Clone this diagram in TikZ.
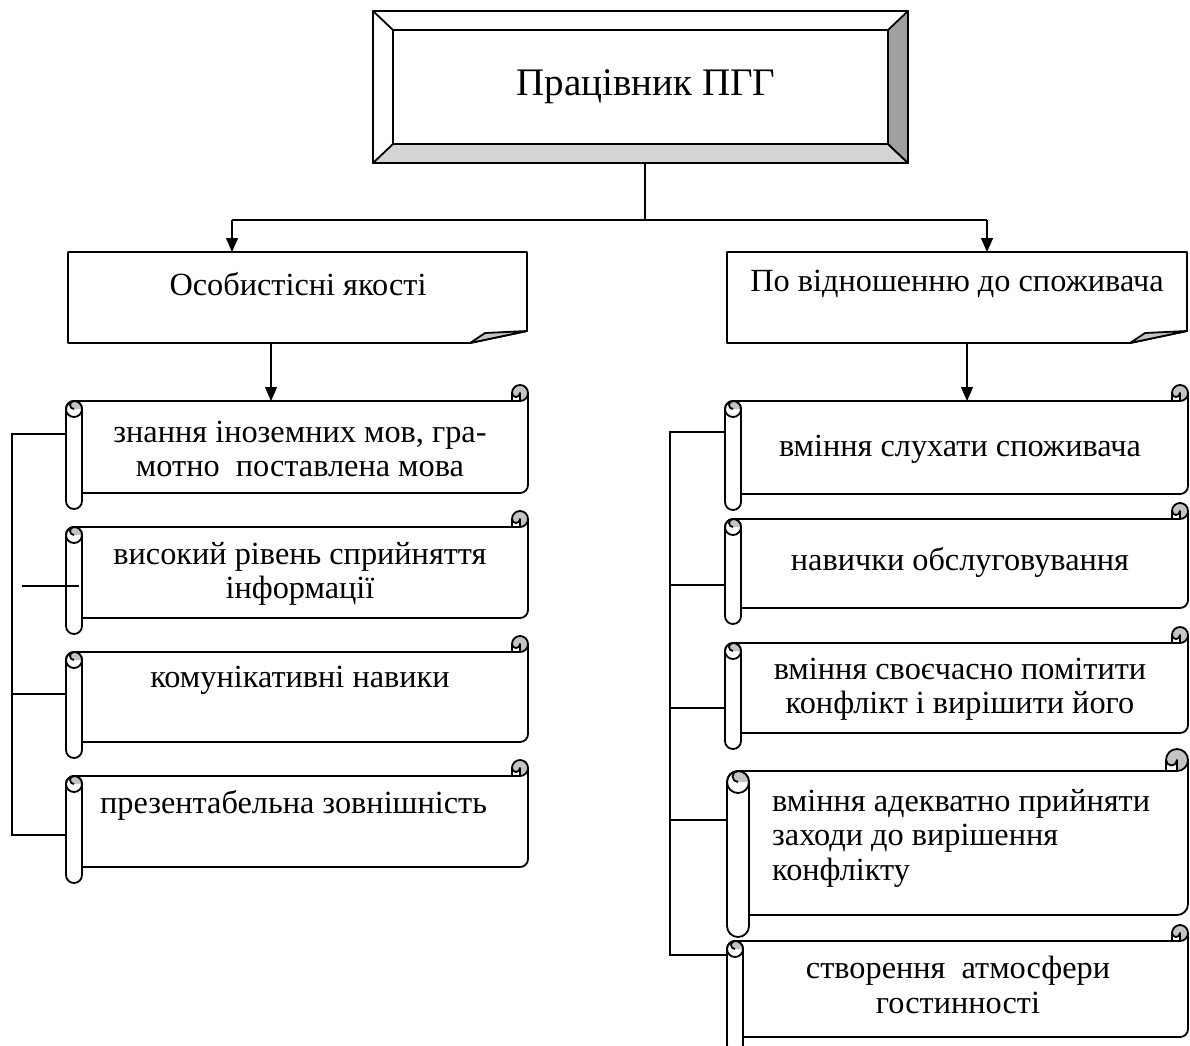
\documentclass[tikz,border=0pt]{standalone}
\usepackage{fontspec}
\setmainfont{Liberation Serif}
\usetikzlibrary{arrows.meta}
\definecolor{curl}{RGB}{196,196,196}
\definecolor{bevelb}{RGB}{212,212,212}
\definecolor{bevelr}{RGB}{160,160,160}
\newcommand\scrl[5]{%
\pgfmathsetmacro\sL{#1}\pgfmathsetmacro\sT{#2}\pgfmathsetmacro\sR{#3}\pgfmathsetmacro\sB{#4}%
\pgfmathsetmacro\sc{#5}\pgfmathsetmacro\sh{#5/2}\pgfmathsetmacro\sq{#5/4}%
\fill[white] (\sL+\sh,\sT+\sc) rectangle (\sR,\sB-\sc);
\draw[shp] (\sL+\sh,\sT+\sc) -- (\sR-\sc,\sT+\sc);
\draw[shp] (\sR,\sT+\sh) -- (\sR,\sB-\sc-\sh) arc[start angle=0,end angle=90,radius=\sh] -- (\sL+\sc,\sB-\sc);
\filldraw[shp,fill=curl] (\sR-\sh,\sT+\sh) circle[radius=\sh];
\filldraw[shp,fill=white] (\sR-\sc,\sT+\sh) arc[start angle=180,end angle=0,radius=\sq] -- (\sR-\sh,\sT+\sc) -- (\sR-\sc,\sT+\sc) -- cycle;
\filldraw[shp,fill=white] (\sL,\sT+\sc+\sh) -- (\sL,\sB-\sh) arc[start angle=180,end angle=0,radius=\sh] -- (\sL+\sc,\sT+\sc+\sh) arc[start angle=0,end angle=-180,radius=\sh] -- cycle;
\fill[curl] (\sL+\sh,\sT+\sc) arc[start angle=-90,end angle=0,radius=\sh] -- (\sL+\sh,\sT+\sc+\sh) arc[start angle=90,end angle=270,radius=\sq] -- cycle;
\draw[shp] (\sL+\sh,\sT+\sc+\sh) circle[radius=\sh];
\draw[shp] (\sL+\sh,\sT+\sc+\sh) arc[start angle=90,end angle=270,radius=\sq];
}
\newcommand\foldbox[4]{%
\filldraw[shp,fill=white] (#1,#2) -- (#3,#2) -- (#3,#4-12) -- (#3-57,#4) -- (#1,#4) -- cycle;
\filldraw[shp,fill=curl] (#3-57,#4) -- (#3-42,#4-10) -- (#3,#4-12) -- cycle;
}
\begin{document}
\begin{tikzpicture}[x=1pt,y=-1pt,
  shp/.style={line width=1.8pt,line join=round},
  con/.style={line width=1.4pt},
  arr/.style={con,-{Triangle[length=14pt,width=12pt]}},
  txt/.style={font=\fontsize{32.3}{34.5}\selectfont,inner sep=0pt,align=center},
  txtl/.style={font=\fontsize{32.3}{34.5}\selectfont,inner sep=0pt,align=left,anchor=west},
  ttl/.style={font=\fontsize{39}{42}\selectfont,inner sep=0pt}]
\useasboundingbox (0,0) rectangle (1190,1045);
% top box
\filldraw[shp,fill=white] (373,11) rectangle (908,163);
\filldraw[shp,fill=bevelb] (373,163) -- (393,144) -- (888,144) -- (908,163) -- cycle;
\filldraw[shp,fill=bevelr] (908,11) -- (888,30) -- (888,144) -- (908,163) -- cycle;
\draw[shp] (373,11) -- (393,30);
\draw[shp] (393,30) rectangle (888,144);
\node[ttl] (top) at (646,87) {Працівник ПГГ};
\coordinate (topb) at (645,163);
% second level
\foldbox{68}{252}{527}{343}
\foldbox{727}{252}{1187}{343}
\node[txt] (lbox) at (298,284) {Особистісні якості};
\node[txt] (rbox) at (957,284) {По відношенню до споживача};
\coordinate (jm) at (645,220);
\coordinate (jl) at (232,220);
\coordinate (jr) at (987,220);
\coordinate (lboxt) at (232,252);
\coordinate (rboxt) at (987,252);
\coordinate (lboxb) at (271,343);
\coordinate (rboxb) at (967,343);
\draw[con] (topb) -- (jm);
\draw[con] (jl) -- (jr);
\draw[arr] (jl) -- (lboxt);
\draw[arr] (jr) -- (rboxt);
% left scrolls
\scrl{66}{385}{528}{509}{16}
\scrl{66}{511}{528}{634}{16}
\scrl{66}{636}{528}{758}{16}
\scrl{66}{760}{528}{883}{16}
\node[txt] (l1) at (300,449) {знання іноземних мов, гра-\\мотно\ \ поставлена мова};
\node[txt] (l2) at (300,574) {високий рівень сприйняття\\інформації};
\node[txt] (l3) at (300,680) {комунікативні навики};
\node[txtl] (l4) at (100,805) {презентабельна зовнішність};
\coordinate (lboxs) at (271,401);
\draw[arr] (lboxb) -- (lboxs);
\coordinate (l1t) at (66,434);
\coordinate (l3t) at (66,694);
\coordinate (l4t) at (66,835);
\coordinate (lbus) at (12,434);
\coordinate (lx1) at (22,586);
\coordinate (lx2) at (79,586);
\draw[con] (l1t) -- (lbus) |- (l4t);
\draw[con] (lbus |- l3t) -- (l3t);
\draw[con] (lx1) -- (lx2);
% right scrolls
\scrl{725}{385}{1188}{510}{16}
\scrl{725}{503}{1188}{624}{16}
\scrl{725}{627}{1188}{749}{16}
\scrl{727}{749}{1188}{937}{22}
\scrl{727}{925}{1188}{1053}{16}
\node[txt] (r1) at (960,449) {вміння слухати споживача};
\node[txt] (r2) at (960,562) {навички обслуговування};
\node[txt] (r3) at (960,689) {вміння своєчасно помітити\\конфлікт і вирішити його};
\node[txtl] (r4) at (772,838) {вміння адекватно прийняти\\заходи до вирішення\\конфлікту};
\node[txt] (r5) at (958,985) {створення\ \ атмосфери\\гостинності};
\coordinate (rboxs) at (967,401);
\draw[arr] (rboxb) -- (rboxs);
\coordinate (r1t) at (725,432);
\coordinate (r2t) at (725,585);
\coordinate (r3t) at (725,708);
\coordinate (r4t) at (727,820);
\coordinate (r5t) at (727,955);
\coordinate (rbus) at (670,432);
\draw[con] (r1t) -- (rbus) |- (r5t);
\draw[con] (rbus |- r2t) -- (r2t);
\draw[con] (rbus |- r3t) -- (r3t);
\draw[con] (rbus |- r4t) -- (r4t);
\end{tikzpicture}
\end{document}
